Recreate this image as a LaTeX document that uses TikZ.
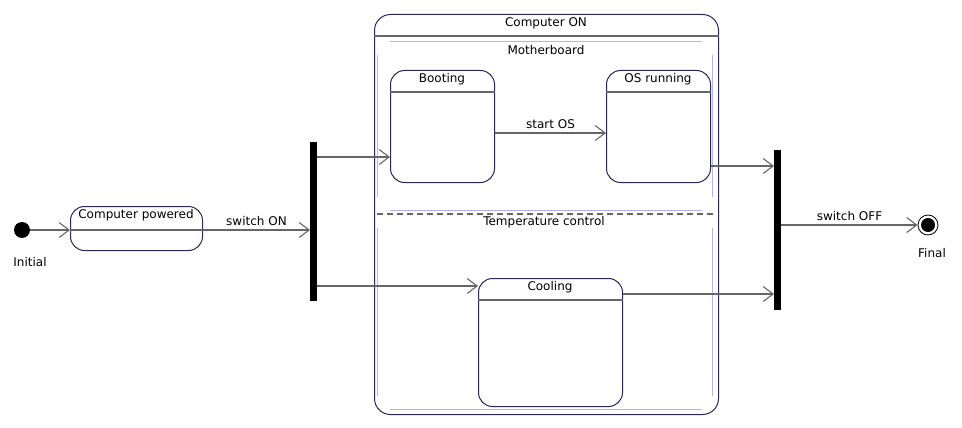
\documentclass[tikz,border=0pt]{standalone}
\usepackage{fontspec}
\setmainfont{DejaVu Sans}
\usepackage{tikz}
\usetikzlibrary{shapes,positioning,calc}
\usetikzlibrary{arrows.meta}
\definecolor{statecol}{RGB}{40,40,90}
\definecolor{regioncol}{RGB}{180,180,245}
\tikzstyle{arrow} = [draw=black!60,line width=1.1pt,-{Straight Barb[length=10pt,width=15pt]}]
\tikzstyle{state} = [draw=statecol,line width=1pt,rounded corners=14pt,rectangle,anchor=north west,inner sep=0pt]
\tikzstyle{divider} = [draw=black!60,line width=1.1pt]
\tikzstyle{region} = [draw=regioncol,line width=0.8pt]
\tikzstyle{bar} = [fill=black,rectangle,anchor=north west,inner sep=0pt,minimum width=7]

\begin{document}
\begin{tikzpicture}[x=1pt,y=-1pt,font=\fontsize{12}{14}\selectfont]
	\useasboundingbox (0,0) rectangle (962,428);
	% composite state
	\node[state, rounded corners=16pt, minimum width=344, minimum height=400] (compon) at (374,14) {};
	\draw[draw=black!60, line width=1.1pt] (compon.west |- 0,36) -- (compon.east |- 0,36);
	\node (componname) at (546,23) {Computer ON};
	% regions (straight parts only)
	\draw[region] (390,41) -- (702,41) (377,55) -- (377,197) (712,55) -- (712,197) (390,210) -- (702,210);
	\draw[region] (377,228) -- (377,396) (712,228) -- (712,396) (390,409) -- (702,409);
	\draw[divider, dash pattern=on 6pt off 4pt] (377,214) -- (713,214);
	\node (mbname) at (546,50) {Motherboard};
	\node (tempname) at (544,222) {Temperature control};
	% simple states
	\node[state, minimum width=132, minimum height=44] (powered) at (70,206) {};
	\draw[divider] (powered.west |- 0,230) -- (powered.east |- 0,230);
	\node (poweredname) at (136,215) {Computer powered};
	\node[state, minimum width=104, minimum height=112] (booting) at (390,70) {};
	\draw[divider] (booting.west |- 0,92) -- (booting.east |- 0,92);
	\node (bootingname) at (442,79) {Booting};
	\node[state, minimum width=104, minimum height=112] (osrun) at (606,70) {};
	\draw[divider] (osrun.west |- 0,92) -- (osrun.east |- 0,92);
	\node (osrunname) at (658,79) {OS running};
	\node[state, minimum width=144, minimum height=128] (cooling) at (478,278) {};
	\draw[divider] (cooling.west |- 0,300) -- (cooling.east |- 0,300);
	\node (coolingname) at (550,287) {Cooling};
	% fork and join
	\node[bar, minimum height=159] (fork) at (310,142) {};
	\node[bar, minimum height=160] (join) at (774,150) {};
	% initial and final
	\node[circle, fill=black, minimum size=16, inner sep=0pt] (init) at (22,230) {};
	\node (initname) at (30,262) {Initial};
	\node[circle, draw=black, line width=0.8pt, minimum size=20, inner sep=0pt] (final) at (928,225) {};
	\fill (final) circle (7);
	\node (finalname) at (932,253) {Final};
	% transitions
	\draw[arrow] (init) -- (init -| powered.west);
	\draw[arrow] (powered.east |- init) -- node[above] {switch ON} (init -| fork.west);
	\draw[arrow] (fork.east |- 0,157) -- (booting.west |- 0,157);
	\draw[arrow] (fork.east |- 0,286) -- (cooling.west |- 0,286);
	\draw[arrow] (booting.east |- 0,133) -- node[above] {start OS} (osrun.west |- 0,133);
	\draw[arrow] (osrun.east |- 0,166) -- (join.west |- 0,166);
	\draw[arrow] (cooling.east |- 0,294) -- (join.west |- 0,294);
	\draw[arrow] (join.east |- final) -- node[above] {switch OFF} (final.west);
\end{tikzpicture}
\end{document}
